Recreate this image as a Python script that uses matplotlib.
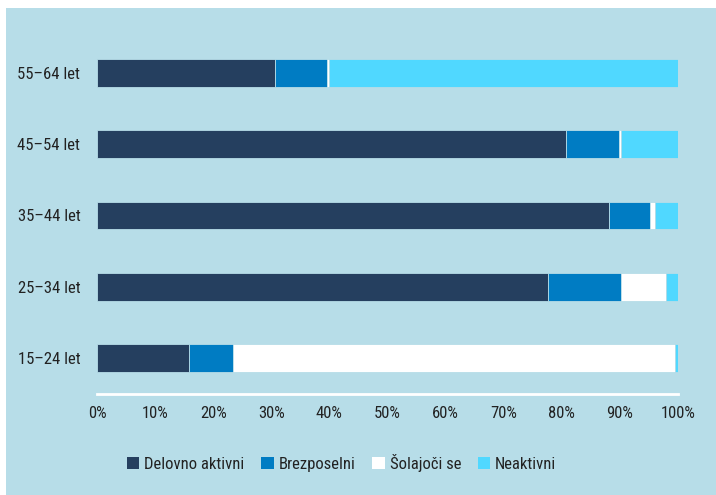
import matplotlib
matplotlib.use("Agg")
import matplotlib.pyplot as plt
import numpy as np

# -----------------------------------------------------------------------------
# DATA (percent of age group)
# -----------------------------------------------------------------------------
groups = ["15–24 let", "25–34 let", "35–44 let", "45–54 let", "55–64 let"]
delovno_aktivni = [15.8, 77.6, 88.1, 80.7, 30.6]
brezposelni     = [7.6, 12.6, 7.1, 9.1, 9.0]
solajoci_se     = [76.1, 7.7, 0.9, 0.4, 0.3]
neaktivni       = [0.5, 2.1, 3.9, 9.8, 60.1]

series = ["Delovno aktivni", "Brezposelni", "Šolajoči se", "Neaktivni"]
colors = ["#253f5f", "#007cc3", "#ffffff", "#50d8ff"]
xticks = [0, 10, 20, 30, 40, 50, 60, 70, 80, 90, 100]

BG = "#b7dde8"
plt.rcParams["font.family"] = ["Roboto Condensed", "Liberation Sans Narrow", "Roboto", "DejaVu Sans"]

W, H, DPI = 716, 495, 100
fig = plt.figure(figsize=(W / DPI, H / DPI), dpi=DPI, facecolor="white")

# light blue panel behind everything
bg = fig.add_axes([6 / W, 0, 1 - 6 / W, 1 - 8 / H], zorder=-1)
bg.set_facecolor(BG)
bg.set_xticks([])
bg.set_yticks([])
for s in bg.spines.values():
    s.set_visible(False)

# axes area: x 97..678 px, y from 394 (baseline) up to ~23
ax = fig.add_axes([97 / W, 1 - 394 / H, (678 - 97) / W, (394 - 23) / H], zorder=1)
ax.set_facecolor("none")

y = np.arange(len(groups))
left = np.zeros(len(groups))
for name, vals, col in zip(series, [delovno_aktivni, brezposelni, solajoci_se, neaktivni], colors):
    vals = np.array(vals)
    ax.barh(y, vals, left=left, height=0.39, color=col, label=name,
            edgecolor=BG, linewidth=0.6)
    left += vals

ax.set_xlim(0, 100)
ax.set_ylim(-0.505, 4.70)
ax.set_yticks(y)
ax.set_yticklabels(groups, fontsize=12, color="#222222")
ax.set_xticks(xticks)
ax.set_xticklabels([f"{t}%" for t in xticks], fontsize=12, color="#222222")
ax.tick_params(axis="x", length=0, pad=9)
ax.tick_params(axis="y", length=0, pad=12)

for s in ["top", "right", "left"]:
    ax.spines[s].set_visible(False)
ax.spines["bottom"].set_color("white")
ax.spines["bottom"].set_linewidth(2)

leg = fig.legend(loc="center", bbox_to_anchor=(0.477, 1 - 463 / H), ncol=4,
                 frameon=False, fontsize=12, handlelength=0.75,
                 handleheight=0.75, handletextpad=0.3, columnspacing=1.0)
for t in leg.get_texts():
    t.set_color("#222222")
for h in leg.legend_handles:
    h.set_edgecolor("none")

fig.savefig("out.png", dpi=DPI, facecolor="white")
